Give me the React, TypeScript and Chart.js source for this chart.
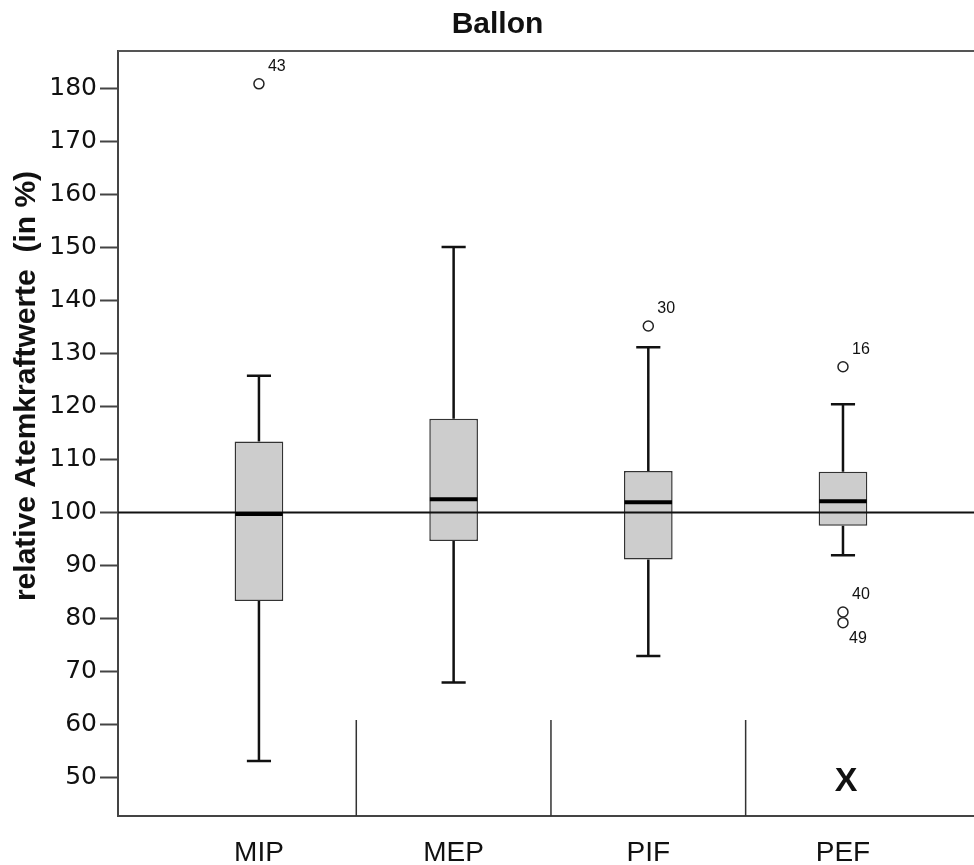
import React, { useEffect, useRef } from "react";
import { Chart, registerables } from "chart.js";

Chart.register(...registerables);

// ---- data ----
const categories = ["MIP", "MEP", "PIF", "PEF"];
const whiskerLow = [53.1, 67.9, 72.9, 91.9];
const q1 = [83.3, 94.6, 91.1, 97.5];
const median = [99.7, 102.5, 101.9, 102.1];
const q3 = [113.4, 117.7, 107.8, 107.7];
const whiskerHigh = [125.8, 150.1, 131.2, 120.4];

const outlierCategory = [0, 2, 3, 3, 3];
const outlierValue = [180.9, 135.2, 127.5, 81.2, 79.2];
const outlierLabel = ["43", "30", "16", "40", "49"];
const outlierLabelSide = ["above", "above", "above", "above", "below"];

const referenceValue = 100;
const yTicks = [50, 60, 70, 80, 90, 100, 110, 120, 130, 140, 150, 160, 170, 180];
const separatorTop = 60.8;
const missingMarkCategory = 3;
const missingMarkValue = 49.4;
const missingMarkText = "X";

const chartTitle = "Ballon";
const yTitle = "relative Atemkraftwerte  (in %)";

// axis ranges (styling of the view)
const X_MIN = -0.724;
const X_MAX = 3.673;
const Y_MIN = 42.7;
const Y_MAX = 187.1;

const BOX_FRAC = 0.25;
const CAP_HALF = 0.062;
const MED_HALF = 0.122;

const FONT = "'Liberation Sans', Arial, sans-serif";
const TICK_FONT = "'DejaVu Sans', 'Liberation Sans', sans-serif";
const GAP = { x: null as any, y: null as any };

export default function App() {
  const ref = useRef<HTMLCanvasElement | null>(null);

  useEffect(() => {
    if (!ref.current) return;

    const whiskerData: any[] = [];
    categories.forEach((_, i) => {
      whiskerData.push({ x: i, y: q3[i] }, { x: i, y: whiskerHigh[i] }, GAP);
      whiskerData.push({ x: i - CAP_HALF, y: whiskerHigh[i] }, { x: i + CAP_HALF, y: whiskerHigh[i] }, GAP);
      whiskerData.push({ x: i, y: q1[i] }, { x: i, y: whiskerLow[i] }, GAP);
      whiskerData.push({ x: i - CAP_HALF, y: whiskerLow[i] }, { x: i + CAP_HALF, y: whiskerLow[i] }, GAP);
    });

    const medianData: any[] = [];
    categories.forEach((_, i) => {
      medianData.push({ x: i - MED_HALF, y: median[i] }, { x: i + MED_HALF, y: median[i] }, GAP);
    });

    const separatorData: any[] = [];
    for (let i = 0; i < categories.length - 1; i++) {
      separatorData.push({ x: i + 0.5, y: Y_MIN }, { x: i + 0.5, y: separatorTop }, GAP);
    }

    const refData = [
      { x: X_MIN, y: referenceValue },
      { x: X_MAX, y: referenceValue },
    ];

    const outlierData = outlierCategory.map((c, i) => ({ x: c, y: outlierValue[i] }));

    const overlay = {
      id: "overlay",
      afterDatasetsDraw(chart: any) {
        const { ctx, chartArea, scales } = chart;
        ctx.save();
        const meta = chart.getDatasetMeta(5);
        ctx.font = `16px ${FONT}`;
        ctx.fillStyle = "#111";
        ctx.textAlign = "left";
        ctx.textBaseline = "middle";
        meta.data.forEach((pt: any, i: number) => {
          const above = outlierLabelSide[i] === "above";
          ctx.fillText(outlierLabel[i], pt.x + (above ? 9 : 6), pt.y + (above ? -17.5 : 16));
        });
        ctx.font = `bold 34px ${FONT}`;
        ctx.textAlign = "center";
        ctx.fillText(
          missingMarkText,
          scales.x.getPixelForValue(missingMarkCategory) + 3,
          scales.y.getPixelForValue(missingMarkValue) + 1
        );
        ctx.strokeStyle = "#555";
        ctx.lineWidth = 2;
        ctx.beginPath();
        ctx.moveTo(chartArea.left, chartArea.top);
        ctx.lineTo(chartArea.right, chartArea.top);
        ctx.stroke();
        ctx.restore();
      },
      afterDraw(chart: any) {
        const { ctx } = chart;
        ctx.save();
        ctx.fillStyle = "#111";
        ctx.font = `bold 30px ${FONT}`;
        ctx.textAlign = "center";
        ctx.textBaseline = "alphabetic";
        ctx.fillText(chartTitle, 497.5, 33);
        ctx.translate(27, 386);
        ctx.rotate(-Math.PI / 2);
        ctx.font = `bold 30px ${FONT}`;
        ctx.textBaseline = "middle";
        ctx.fillText(yTitle, 0, 0);
        ctx.restore();
      },
    };

    const chart = new Chart(ref.current, {
      type: "bar",
      data: {
        datasets: [
          {
            type: "bar",
            data: categories.map((_, i) => ({ x: i, y: [q1[i], q3[i]] })) as any,
            backgroundColor: "#cdcdcd",
            borderColor: "#333",
            borderWidth: 1.5,
            borderSkipped: false,
            barPercentage: BOX_FRAC,
            categoryPercentage: 1,
            order: 5,
          } as any,
          {
            type: "scatter",
            data: whiskerData,
            showLine: true,
            borderColor: "#111",
            borderWidth: 2.5,
            pointRadius: 0,
            order: 6,
          } as any,
          {
            type: "scatter",
            data: separatorData,
            showLine: true,
            borderColor: "#333",
            borderWidth: 1.5,
            pointRadius: 0,
            order: 7,
          } as any,
          {
            type: "scatter",
            data: refData,
            showLine: true,
            borderColor: "#111",
            borderWidth: 2,
            pointRadius: 0,
            order: 2,
          } as any,
          {
            type: "scatter",
            data: medianData,
            showLine: true,
            borderColor: "#000",
            borderWidth: 4,
            pointRadius: 0,
            order: 1,
          } as any,
          {
            type: "scatter",
            data: outlierData,
            showLine: false,
            pointRadius: 5,
            pointBorderWidth: 1.5,
            pointBackgroundColor: "#fff",
            pointBorderColor: "#222",
            order: 0,
          } as any,
        ],
      },
      options: {
        responsive: false,
        animation: false,
        devicePixelRatio: 1,
        layout: { autoPadding: false, padding: { top: 51, left: 0, right: 0, bottom: 0 } },
        plugins: {
          legend: { display: false },
          title: { display: false },
          tooltip: { enabled: false },
        },
        scales: {
          x: {
            type: "linear",
            min: X_MIN,
            max: X_MAX,
            offset: false,
            afterBuildTicks: (s: any) => {
              s.ticks = categories.map((_, i) => ({ value: i }));
            },
            afterFit: (s: any) => {
              s.height = 49;
              s.paddingLeft = 0;
              s.paddingRight = 0;
            },
            ticks: {
              callback: (v: any) => categories[Math.round(Number(v))],
              font: { family: FONT, size: 28 },
              color: "#111",
              padding: 20,
              maxRotation: 0,
              autoSkip: false,
            },
            grid: { display: false, drawTicks: false },
            border: { display: true, color: "#444", width: 2 },
          },
          y: {
            type: "linear",
            min: Y_MIN,
            max: Y_MAX,
            afterBuildTicks: (s: any) => {
              s.ticks = yTicks.map((v) => ({ value: v }));
            },
            afterFit: (s: any) => {
              s.width = 118;
              s.paddingTop = 0;
              s.paddingBottom = 0;
            },
            ticks: {
              font: { family: TICK_FONT, size: 25 },
              color: "#111",
              padding: 3,
              autoSkip: false,
            },
            grid: {
              display: true,
              drawOnChartArea: false,
              drawTicks: true,
              tickLength: 18,
              tickColor: "#444",
              tickWidth: 2,
            },
            border: { display: true, color: "#444", width: 2 },
          },
        },
      },
      plugins: [overlay],
    } as any);

    return () => chart.destroy();
  }, []);

  return (
    <div style={{ position: "absolute", left: 0, top: 0, width: 974, height: 865, background: "#fff" }}>
      <canvas ref={ref} width={974} height={865} style={{ display: "block" }} />
    </div>
  );
}
